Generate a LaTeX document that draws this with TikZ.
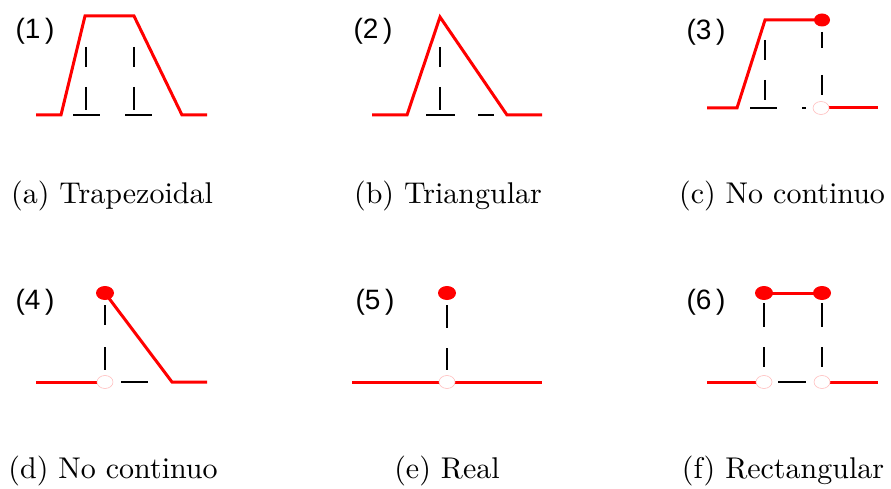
\documentclass[tikz,border=0pt]{standalone}
\usepackage{fontspec}
\setmainfont{lmroman10-regular}[Extension=.otf]
\newfontfamily\labfont{Liberation Sans}
\begin{document}
\begin{tikzpicture}[x=1pt,y=-1pt,
  redl/.style={red, line width=3pt},
  blk/.style={black, line width=2pt},
  fdot/.style={fill=red, draw=none},
  odot/.style={draw=red!25, fill=white, line width=0.6pt},
  lab/.style={font=\labfont\fontsize{28}{32}\selectfont, inner sep=0pt},
  captxt/.style={font=\fontsize{30}{36}\selectfont, inner sep=0pt, anchor=base}]
\useasboundingbox (0,0) rectangle (891,489);
% panel 1
\draw[redl] (36,115) -- (61,115) -- (85,16) -- (134,16) -- (182,115) -- (207,115);
\draw[blk] (86,47)--(86,67) (86,87)--(86,110) (134,47)--(134,67) (134,87)--(134,110)
  (73,115)--(100,115) (125,115)--(152,115);
\node[lab] (l1) at (35,31) {(1\,)};
\node[captxt] (c1) at (112,204) {(a) Trapezoidal};
% panel 2
\draw[redl] (372,115)--(407,115)--(440,17)--(507,115)--(542,115);
\draw[blk] (440,47)--(440,67) (440,87)--(440,110) (426,115)--(455,115) (478,115)--(494,115);
\node[lab] (l2) at (373,31) {(2\,)};
\node[captxt] (c2) at (448,204) {(b) Triangular};
% panel 3
\draw[redl] (707,108)--(737,108)--(765,20)--(822,20);
\draw[redl] (829,108)--(878,108);
\draw[blk] (765,40)--(765,60) (765,80)--(765,100) (822,32)--(822,48) (822,75)--(822,95)
  (750,108)--(777,108) (802,108)--(806,108);
\fill[fdot] (822,20) ellipse [x radius=8pt, y radius=6.5pt];
\draw[odot] (821,108) ellipse [x radius=8pt, y radius=6.5pt];
\node[lab] (l3) at (706,32) {(3\,)};
\node[captxt] (c3) at (782,204) {(c) No continuo};
% panel 4
\draw[redl] (36,382)--(97,382);
\draw[redl] (105,293)--(172,382)--(207,382);
\draw[blk] (105,305)--(105,325) (105,347)--(105,370) (121,382)--(148,382);
\fill[fdot] (105,293) ellipse [x radius=9pt, y radius=7pt];
\draw[odot] (105,382) ellipse [x radius=8pt, y radius=6.5pt];
\node[lab] (l4) at (35,302) {(4\,)};
\node[captxt] (c4) at (113,478) {(d) No continuo};
% panel 5
\draw[redl] (352,382)--(542,382);
\draw[blk] (447,305)--(447,328) (447,348)--(447,370);
\fill[fdot] (447,293) ellipse [x radius=9pt, y radius=7pt];
\draw[odot] (447,382) ellipse [x radius=8pt, y radius=6.5pt];
\node[lab] (l5) at (375,302) {(5\,)};
\node[captxt] (c5) at (447,478) {(e) Real};
% panel 6
\draw[redl] (764,293)--(822,293);
\draw[redl] (707,382)--(757,382) (830,382)--(878,382);
\draw[blk] (764,303)--(764,327) (764,347)--(764,367) (822,303)--(822,327) (822,347)--(822,367)
  (778,382)--(806,382);
\fill[fdot] (764,293) ellipse [x radius=9pt, y radius=7pt];
\fill[fdot] (822,293) ellipse [x radius=9pt, y radius=7pt];
\draw[odot] (764,382) ellipse [x radius=8pt, y radius=6.5pt];
\draw[odot] (822,382) ellipse [x radius=8pt, y radius=6.5pt];
\node[lab] (l6) at (706,302) {(6\,)};
\node[captxt] (c6) at (783,478) {(f) Rectangular};
\end{tikzpicture}
\end{document}
